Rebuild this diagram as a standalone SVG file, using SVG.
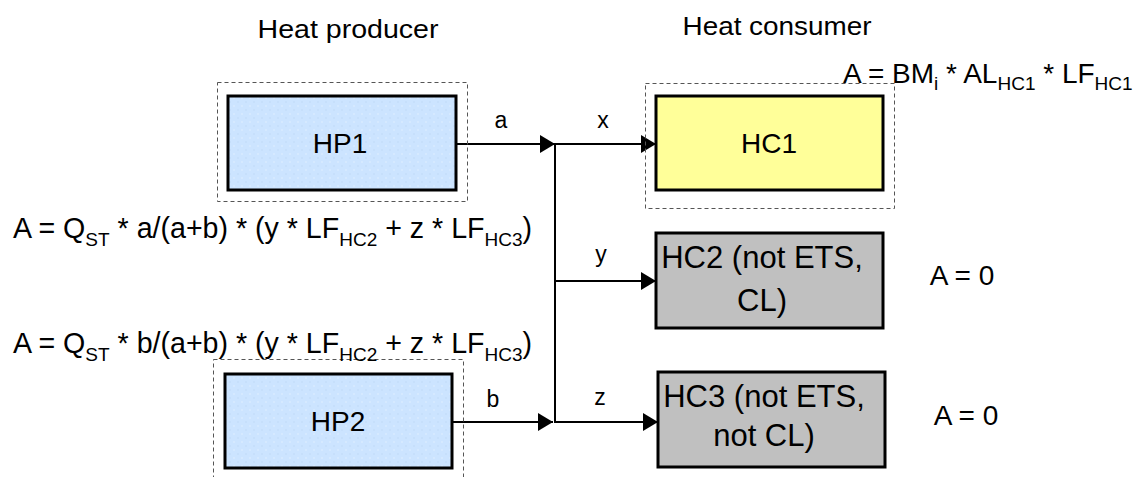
<svg xmlns="http://www.w3.org/2000/svg" width="1141" height="477" viewBox="0 0 1141 477">
<defs>
<style>
text{font-family:"Liberation Sans",Arial,sans-serif;fill:#000}
.hdr{font-size:26px}
.big{font-size:28px}
.fx{font-size:28.6px}
.lbl{font-size:23px}
.node{font-size:31px}
.sub{font-size:19px}
.frame{fill:none;stroke:#555;stroke-width:1;stroke-dasharray:4 3}
.box{stroke:#000;stroke-width:3}
.hp{fill:url(#dots)}
.hc1{fill:#ffff99}
.hcg{fill:#c0c0c0}
.wire{fill:none;stroke:#000;stroke-width:2}
</style>
<pattern id="dots" width="8" height="8" patternUnits="userSpaceOnUse">
<rect width="8" height="8" fill="#cce4ff"/>
<circle cx="2" cy="2" r="0.7" fill="#e6f2ff"/>
<circle cx="6" cy="6" r="0.7" fill="#bcd8f5"/>
</pattern>
<marker id="arr" viewBox="0 0 15 18" refX="15" refY="9" markerWidth="15" markerHeight="18" markerUnits="userSpaceOnUse" orient="auto">
<path d="M0,0 L15,9 L0,18 Z" fill="#000"/>
</marker>
</defs>
<rect width="1141" height="477" fill="#fff"/>

<text class="hdr" x="348" y="38" text-anchor="middle" textLength="181" lengthAdjust="spacingAndGlyphs">Heat producer</text>
<text class="hdr" x="777" y="35" text-anchor="middle" textLength="189" lengthAdjust="spacingAndGlyphs">Heat consumer</text>

<g id="connectors">
<line class="wire" x1="456" y1="144" x2="555" y2="144" marker-end="url(#arr)"/>
<line class="wire" x1="452" y1="422" x2="553" y2="422" marker-end="url(#arr)"/>
<line class="wire" x1="555" y1="143" x2="555" y2="423"/>
<line class="wire" x1="555" y1="144" x2="656" y2="144" marker-end="url(#arr)"/>
<line class="wire" x1="555" y1="281" x2="656" y2="281" stroke-width="1.5" marker-end="url(#arr)"/>
<line class="wire" x1="555" y1="422" x2="658" y2="422" marker-end="url(#arr)"/>
<text class="lbl" x="501" y="128" text-anchor="middle">a</text>
<text class="lbl" x="493" y="407" text-anchor="middle">b</text>
<text class="lbl" x="603" y="128" text-anchor="middle">x</text>
<text class="lbl" x="601" y="262" text-anchor="middle">y</text>
<text class="lbl" x="600" y="405" text-anchor="middle">z</text>
</g>

<g id="HP1">
<rect class="frame" x="217.5" y="82.5" width="250" height="119"/>
<rect class="box hp" x="228" y="96" width="228" height="94"/>
<text class="big" x="340" y="153" text-anchor="middle">HP1</text>
</g>

<g id="HP2">
<rect class="frame" x="213.5" y="359.5" width="250" height="125"/>
<rect class="box hp" x="225" y="374" width="227" height="94"/>
<text class="big" x="338" y="431" text-anchor="middle">HP2</text>
</g>

<g id="HC1">
<rect class="frame" x="645.5" y="83.5" width="249" height="125"/>
<rect class="box hc1" x="656" y="96" width="227" height="94"/>
<text class="big" x="769" y="153" text-anchor="middle">HC1</text>
</g>

<g id="HC2">
<rect class="box hcg" x="656" y="233" width="227" height="95"/>
<text class="node" x="762" y="268" text-anchor="middle">HC2 (not ETS,</text>
<text class="node" x="762" y="311" text-anchor="middle">CL)</text>
</g>

<g id="HC3">
<rect class="box hcg" x="658" y="372" width="227" height="95"/>
<text class="node" x="764" y="407" text-anchor="middle">HC3 (not ETS,</text>
<text class="node" x="764" y="446" text-anchor="middle">not CL)</text>
</g>

<g id="formulas">
<text class="big" x="843" y="83">A = BM<tspan class="sub" dy="7">i</tspan><tspan dy="-7"> * AL</tspan><tspan class="sub" dy="7">HC1</tspan><tspan dy="-7"> * LF</tspan><tspan class="sub" dy="7">HC1</tspan></text>
<text class="fx" x="13" y="238">A = Q<tspan class="sub" dy="8">ST</tspan><tspan dy="-8"> * a/(a+b) * (y * LF</tspan><tspan class="sub" dy="8">HC2</tspan><tspan dy="-8"> + z * LF</tspan><tspan class="sub" dy="8">HC3</tspan><tspan dy="-8">)</tspan></text>
<text class="fx" x="13" y="353">A = Q<tspan class="sub" dy="8">ST</tspan><tspan dy="-8"> * b/(a+b) * (y * LF</tspan><tspan class="sub" dy="8">HC2</tspan><tspan dy="-8"> + z * LF</tspan><tspan class="sub" dy="8">HC3</tspan><tspan dy="-8">)</tspan></text>
<text class="big" x="962" y="285" text-anchor="middle">A = 0</text>
<text class="big" x="966" y="425" text-anchor="middle">A = 0</text>
</g>
</svg>
